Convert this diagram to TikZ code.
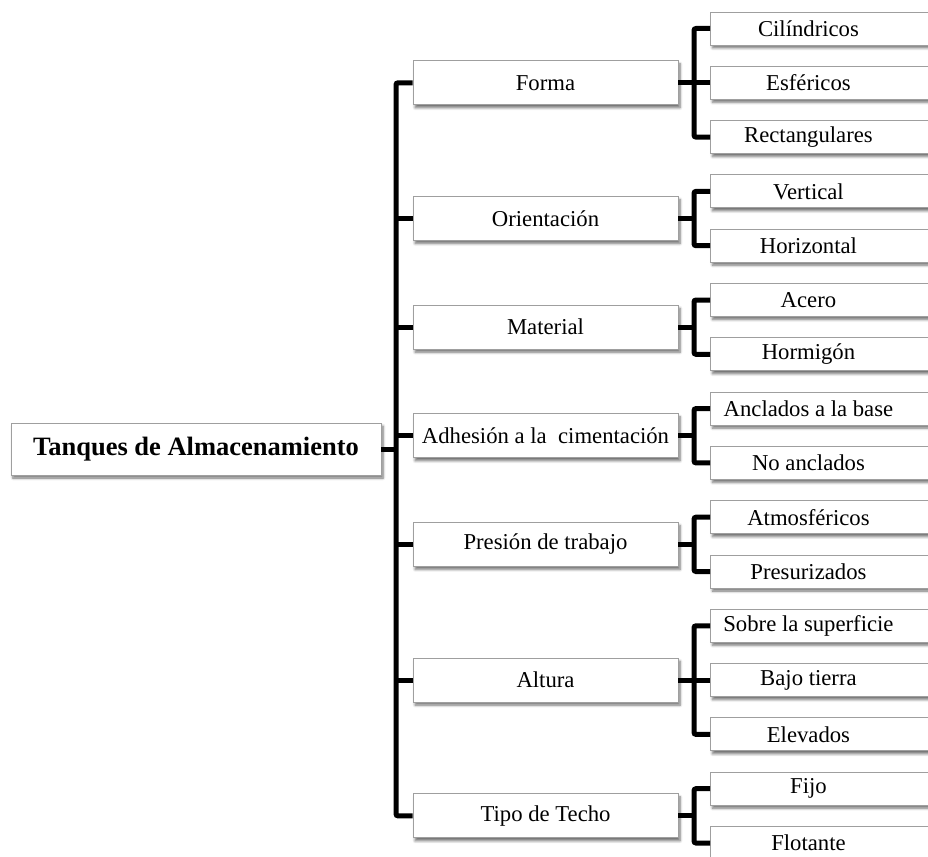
\documentclass[tikz,border=0pt]{standalone}
\usepackage{fontspec}
\setmainfont{Liberation Serif}
\usetikzlibrary{shadows.blur}
\tikzset{
  box/.style={draw=gray!75, line width=0.9pt, fill=white, inner sep=0pt,
    blur shadow={shadow xshift=2pt, shadow yshift=-3pt, shadow blur steps=6, shadow opacity=55, shadow blur radius=2.5pt}},
  rootbox/.style={box, minimum width=370pt, minimum height=52pt, font=\fontsize{26.5}{30}\selectfont\bfseries},
  midbox/.style={box, minimum width=265pt, minimum height=44pt, font=\fontsize{22.7}{27}\selectfont},
  leafbox/.style={box, anchor=west, minimum height=33pt, font=\fontsize{22.7}{27}\selectfont},
  conn/.style={line width=5pt, rounded corners=2pt}
}
\newcommand{\leaftext}[1]{\makebox[196pt]{#1}\hspace*{40pt}}
\begin{document}
\begin{tikzpicture}[x=1pt, y=-1pt]
\useasboundingbox (0,0) rectangle (928,856);
% trunk and bracket x positions
\coordinate (T) at (396,0);
\coordinate (B) at (694,0);
% root
\node[rootbox] (root) at (196,449) {Tanques de Almacenamiento};
% leaves
\node[leafbox] (l1)  at (710,28.5)  {\leaftext{Cilíndricos}};
\node[leafbox] (l2)  at (710,82.8)  {\leaftext{Esféricos}};
\node[leafbox] (l3)  at (710,137.1) {\leaftext{Rectangulares}};
\node[leafbox] (l4)  at (710,191.4) {\leaftext{Vertical}};
\node[leafbox] (l5)  at (710,245.7) {\leaftext{Horizontal}};
\node[leafbox] (l6)  at (710,300.0) {\leaftext{Acero}};
\node[leafbox] (l7)  at (710,354.3) {\leaftext{Hormigón}};
\node[leafbox] (l8)  at (710,408.6) {\leaftext{Anclados a la base}};
\node[leafbox] (l9)  at (710,462.9) {\leaftext{No anclados}};
\node[leafbox] (l10) at (710,517.2) {\leaftext{Atmosféricos}};
\node[leafbox] (l11) at (710,571.5) {\leaftext{Presurizados}};
\node[leafbox] (l12) at (710,625.8) {\leaftext{Sobre la superficie}};
\node[leafbox] (l13) at (710,680.1) {\leaftext{Bajo tierra}};
\node[leafbox] (l14) at (710,734.4) {\leaftext{Elevados}};
\node[leafbox] (l15) at (710,788.7) {\leaftext{Fijo}};
\node[leafbox] (l16) at (710,843.0) {\leaftext{Flotante}};
% middle boxes
\node[midbox] (m1) at (545.5,82.8)  {Forma};
\node[midbox] (m2) at (545.5,218.5) {Orientación};
\node[midbox] (m3) at (545.5,327.2) {Material};
\node[midbox] (m4) at (545.5,435.8) {Adhesión a la~ cimentación};
\node[midbox] (m5) at (545.5,544.4) {Presión de trabajo};
\node[midbox] (m6) at (545.5,680.1) {Altura};
\node[midbox] (m7) at (545.5,815.9) {Tipo de Techo};
% trunk
\draw[conn] (root.east) -- (root.east -| T);
\draw[conn] (m1.west) -- (m1.west -| T) -- (m7.west -| T) -- (m7.west);
\foreach \m in {m2,m3,m4,m5,m6} \draw[conn] (\m.west) -- (\m.west -| T);
% brackets
\foreach \m in {m1,m2,m3,m4,m5,m6,m7} \draw[conn] (\m.east) -- (\m.east -| B);
\draw[conn] (l1.west) -- (l1.west -| B) -- (l3.west -| B) -- (l3.west);
\draw[conn] (l2.west) -- (l2.west -| B);
\draw[conn] (l4.west) -- (l4.west -| B) -- (l5.west -| B) -- (l5.west);
\draw[conn] (l6.west) -- (l6.west -| B) -- (l7.west -| B) -- (l7.west);
\draw[conn] (l8.west) -- (l8.west -| B) -- (l9.west -| B) -- (l9.west);
\draw[conn] (l10.west) -- (l10.west -| B) -- (l11.west -| B) -- (l11.west);
\draw[conn] (l12.west) -- (l12.west -| B) -- (l14.west -| B) -- (l14.west);
\draw[conn] (l13.west) -- (l13.west -| B);
\draw[conn] (l15.west) -- (l15.west -| B) -- (l16.west -| B) -- (l16.west);
\end{tikzpicture}
\end{document}
